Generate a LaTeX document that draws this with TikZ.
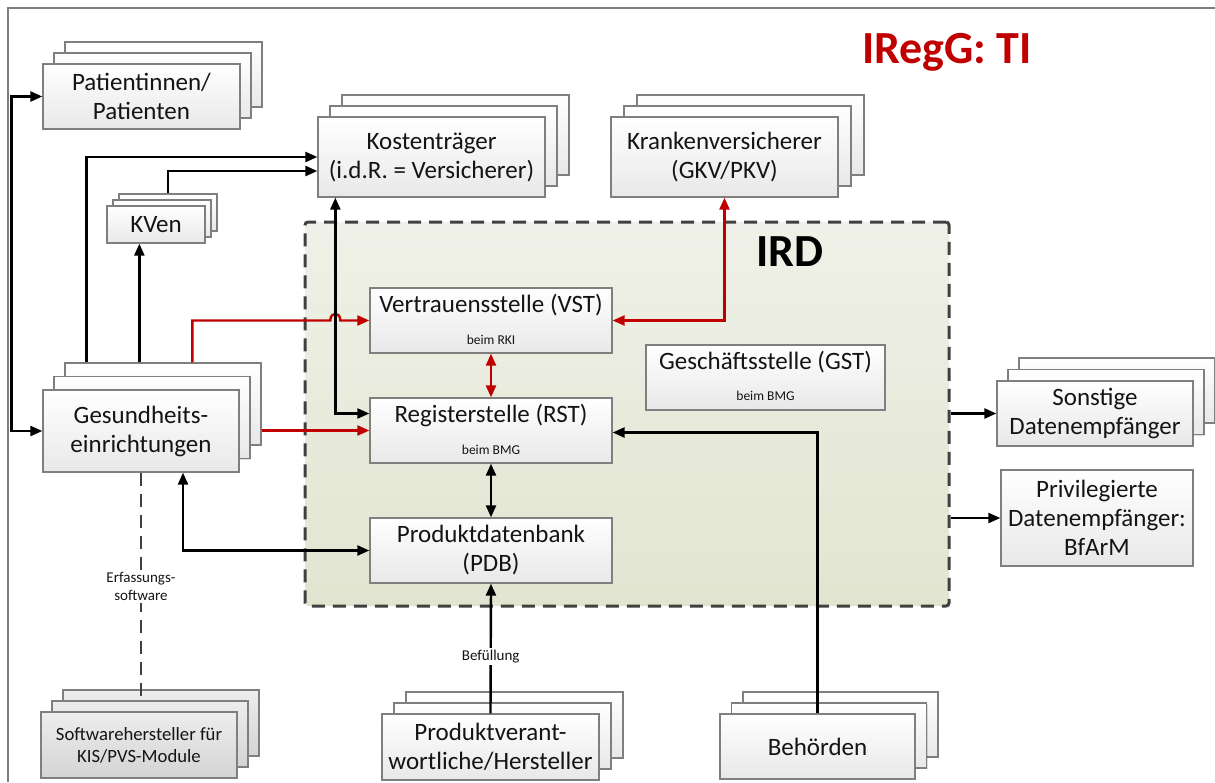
\documentclass[tikz,border=0pt]{standalone}
\usepackage{fontspec}
\setmainfont{Carlito}
\usetikzlibrary{arrows.meta,calc,shadows}
\definecolor{dred}{HTML}{C00000}
\definecolor{bord}{HTML}{7F7F7F}
\definecolor{txt}{HTML}{141414}
\definecolor{irdtop}{HTML}{EFF1E8}
\definecolor{irdbot}{HTML}{E1E5D0}
\definecolor{dashc}{HTML}{404040}
\tikzset{
  box/.style={draw=bord, line width=1.3pt, top color=white, bottom color=black!9,
    text=txt, align=center, inner sep=0pt, font=\fontsize{25}{29}\selectfont,
    drop shadow={shadow xshift=1.2pt, shadow yshift=-1.2pt, opacity=0.13, fill=black}},
  grbox/.style={box, top color=black!7, bottom color=black!17, font=\fontsize{18.7}{22}\selectfont},
  tip/.tip={Triangle[length=12pt,width=10pt]},
  bk/.style={-tip, line width=2.4pt, black},
  bkb/.style={tip-tip, line width=2.4pt, black},
  rd/.style={-tip, line width=2.4pt, dred},
  rdb/.style={tip-tip, line width=2.4pt, dred},
  smalltxt/.style={font=\fontsize{15}{18}\selectfont, text=txt, align=center},
  subtxt/.style={font=\fontsize{13.5}{16}\selectfont, text=txt},
  titletxt/.style={font=\fontsize{25}{29}\selectfont, text=txt},
}
\newcommand{\stkbox}[9]{%
  \node[#9, minimum width=#4pt, minimum height=#5pt] (#1-c) at (#2+2*#6, #3-2*#7) {};
  \node[#9, minimum width=#4pt, minimum height=#5pt] (#1-b) at (#2+#6, #3-#7) {};
  \node[#9, minimum width=#4pt, minimum height=#5pt] (#1) at (#2, #3) {#8};
}
\begin{document}
\begin{tikzpicture}[x=1pt,y=-1pt]
\useasboundingbox (0,0) rectangle (1215,782);
% outer frame
\draw[bord, line width=1.6pt] (8,782) -- (8,8) -- (1215,8);
% IRD area
\node[draw=dashc, line width=3pt, dash pattern=on 13pt off 8pt, rounded corners=3pt,
  top color=irdtop, bottom color=irdbot, minimum width=644pt, minimum height=384pt] (ird) at (627,414) {};
\node[font=\bfseries\fontsize{46}{50}\selectfont, text=black] (irdlab) at (790,252) {IRD};
\node[font=\bfseries\fontsize{46}{50}\selectfont, text=dred] (title) at (947,52) {IRegG: TI};

% stacked boxes
\stkbox{pat}{141.5}{96.5}{197}{65}{11}{11}{Patientinnen/\\Patienten}{box}
\stkbox{kven}{156}{224.5}{98}{37}{6}{6}{KVen}{box}
\stkbox{kost}{431.5}{157}{227}{80}{12}{11}{Kostenträger\\(i.d.R. = Versicherer)}{box}
\stkbox{kv}{724.5}{157}{227}{80}{13}{11}{Krankenversicherer\\(GKV/PKV)}{box}
\stkbox{ges}{141}{431}{196}{82}{11}{13.5}{Gesundheits-\\einrichtungen}{box}
\stkbox{son}{1095}{413.5}{196}{65}{11}{11.5}{Sonstige\\Datenempfänger}{box}
\stkbox{prod}{490.5}{747}{217}{66}{12}{11}{Produktverant-\\wortliche/Hersteller}{box}
\stkbox{beh}{817.5}{746.5}{195}{65}{11.5}{11}{Behörden}{box}
\stkbox{soft}{139}{745}{196}{66}{11}{11}{Softwarehersteller für\\KIS/PVS-Module}{grbox}

% single boxes
\node[box, minimum width=242pt, minimum height=65pt] (vst) at (491,320.5) {};
\node[titletxt] (vstt) at ($(vst.north)+(0,18)$) {Vertrauensstelle (VST)};
\node[subtxt] (vsts) at ($(vst.south)+(0,-14)$) {beim RKI};
\node[box, minimum width=242pt, minimum height=65pt] (rst) at (491,430.5) {};
\node[titletxt] (rstt) at ($(rst.north)+(0,18)$) {Registerstelle (RST)};
\node[subtxt] (rsts) at ($(rst.south)+(0,-14)$) {beim BMG};
\node[box, minimum width=242pt, minimum height=65pt] (pdb) at (491,550.5) {Produktdatenbank\\(PDB)};
\node[box, minimum width=239pt, minimum height=65pt] (gst) at (765.5,377.5) {};
\node[titletxt] (gstt) at ($(gst.north)+(0,18)$) {Geschäftsstelle (GST)};
\node[subtxt] (gsts) at ($(gst.south)+(0,-15)$) {beim BMG};
\node[box, minimum width=192pt, minimum height=96pt] (priv) at (1097,518) {Privilegierte\\Datenempfänger:\\BfArM};

% helper coordinates
\coordinate (g1) at ($(ges-c.north west)+(22,0)$);
\coordinate (g2) at ($(ges-c.north west)+(75,0)$);
\coordinate (g3) at ($(ges-c.north west)+(128,0)$);
\coordinate (kx) at ($(kost.south west)+(18,0)$);
\coordinate (h1) at ($(kx |- vst.west)+(-5,0)$);
\coordinate (h2) at ($(kx |- vst.west)+(5,0)$);

% connectors
\draw[bkb] (pat.west) -- ++(-31,0) |- (ges.west);
\draw[bk] (g1) |- (kost.west);
\draw[bk] (kven-c.north) |- ([yshift=-14pt]kost.west);
\draw[bk] (g2) -- (g2 |- kven.south);
\draw[rd] (g3) |- (h1) .. controls ($(h1)+(0,-9)$) and ($(h2)+(0,-9)$) .. (h2) -- (vst.west);
\draw[rd] (ges-c.east |- rst.west) -- (rst.west);
\draw[bkb] (kx) |- ([yshift=17pt]rst.west);
\draw[rdb] (vst.east) -| (kv.south);
\draw[rdb] (vst.south) -- (rst.north);
\draw[bkb] (rst.south) -- (pdb.north);
\draw[bk] (beh.north) |- ([yshift=-2pt]rst.east);
\draw[bkb] ([xshift=42pt]ges.south) |- (pdb.west);
\draw[bk] (prod.north) -- node[pos=0.435, fill=white, inner sep=2pt, smalltxt] (bef) {Befüllung} (pdb.south);
\draw[dashc, line width=2.7pt, dash pattern=on 13pt off 8pt] (ges.south) -- node[pos=0.5, fill=white, inner sep=2pt, smalltxt] (erf) {Erfassungs-\\software} (ges.south |- soft-b.north);
\draw[bk] (ird.east |- son.west) -- (son.west);
\draw[bk] (ird.east |- priv.west) -- (priv.west);
\end{tikzpicture}
\end{document}
